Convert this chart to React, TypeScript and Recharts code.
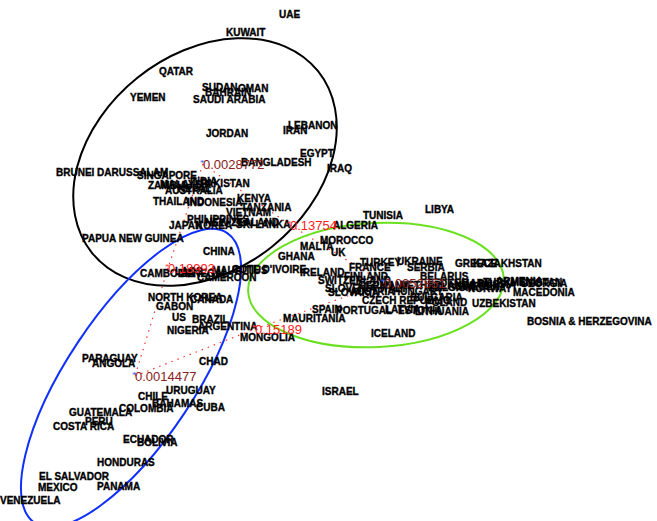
import { ScatterChart, Scatter, XAxis, YAxis, ReferenceLine } from 'recharts';

const W = 657;
const H = 521;

// 2-D map coordinates of each country: [name, x, y] (y grows downwards)
const gulfAsia: [string, number, number][] = [
  ['UAE', 279, 14], ['KUWAIT', 226, 32], ['QATAR', 159, 71], ['YEMEN', 130, 97],
  ['SUDAN', 202, 87], ['OMAN', 238, 88], ['BAHRAIN', 205, 92], ['SAUDI ARABIA', 193, 99],
  ['LEBANON', 288, 125], ['IRAN', 283, 130], ['JORDAN', 206, 133], ['EGYPT', 300, 153],
  ['BANGLADESH', 241, 162], ['IRAQ', 327, 168], ['BRUNEI DARUSSALAM', 56, 172],
  ['SINGAPORE', 137, 175], ['INDIA', 190, 181], ['PAKISTAN', 200, 183], ['ZAMBIA', 148, 185],
  ['MALAYSIA', 160, 184], ['NEPAL', 178, 188], ['AUSTRALIA', 165, 190],
  ['THAILAND', 153, 201], ['INDONESIA', 187, 202], ['KENYA', 237, 198], ['TANZANIA', 241, 207],
  ['VIETNAM', 226, 212], ['PHILIPPINES', 187, 219], ['NEW ZEALAND', 205, 222],
  ['JAPAN', 169, 225], ['KOREA', 196, 225], ['SRI LANKA', 236, 224], ['PAPUA NEW GUINEA', 82, 238],
];

const europeAfrica: [string, number, number][] = [
  ['TUNISIA', 363, 215], ['LIBYA', 425, 209], ['ALGERIA', 333, 225], ['MOROCCO', 320, 240],
  ['MALTA', 300, 246], ['UK', 331, 252], ['GHANA', 278, 256], ['IRELAND', 300, 272],
  ['TURKEY', 360, 262], ['FRANCE', 349, 267], ['UKRAINE', 397, 261], ['SERBIA', 407, 267],
  ['GREECE', 455, 263], ['KAZAKHSTAN', 473, 263], ['BELARUS', 420, 276], ['FINLAND', 344, 276],
  ['SWITZERLAND', 318, 280], ['GERMANY', 358, 285], ['SLOVENIA', 325, 288], ['SLOVAKIA', 328, 292],
  ['AUSTRIA', 350, 291], ['ITALY', 380, 288], ['HUNGARY', 393, 291], ['NETHERLANDS', 400, 285],
  ['BELGIUM', 428, 287], ['DENMARK', 440, 283], ['SWEDEN', 456, 286], ['NORWAY', 468, 288],
  ['RUSSIA', 478, 284], ['ARMENIA', 496, 281], ['TURKMENISTAN', 483, 282], ['GEORGIA', 520, 283],
  ['MACEDONIA', 513, 292], ['UZBEKISTAN', 472, 303], ['BOSNIA & HERZEGOVINA', 527, 321],
  ['CZECH REPUBLIC', 362, 300], ['BULGARIA', 410, 297], ['POLAND', 425, 302],
  ['SPAIN', 312, 309], ['PORTUGAL', 336, 310], ['LATVIA', 385, 309], ['ESTONIA', 398, 310],
  ['LITHUANIA', 415, 311], ['MAURITANIA', 283, 318], ['ICELAND', 371, 333], ['ISRAEL', 322, 391],
];

const middle: [string, number, number][] = [
  ['CHINA', 203, 251], ['CAMBODIA', 140, 273], ['LAOS', 175, 271], ['SENEGAL', 180, 273],
  ['MAURITIUS', 212, 270], ["COTE D'IVOIRE", 232, 269], ['CAMEROON', 197, 277],
  ['NORTH KOREA', 148, 297], ['CANADA', 190, 299], ['GABON', 156, 306], ['US', 172, 317],
  ['BRAZIL', 192, 319], ['ARGENTINA', 198, 326], ['NIGERIA', 167, 330], ['MONGOLIA', 240, 337],
];

const americas: [string, number, number][] = [
  ['PARAGUAY', 82, 358], ['ANGOLA', 92, 363], ['CHAD', 199, 361], ['URUGUAY', 166, 390],
  ['CHILE', 138, 396], ['BAHAMAS', 152, 403], ['COLOMBIA', 119, 408], ['CUBA', 196, 407],
  ['GUATEMALA', 69, 412], ['PERU', 85, 421], ['COSTA RICA', 53, 426], ['ECUADOR', 123, 439],
  ['BOLIVIA', 137, 442], ['HONDURAS', 97, 462], ['EL SALVADOR', 39, 476], ['MEXICO', 38, 487],
  ['PANAMA', 97, 486], ['VENEZUELA', 0, 500],
];

// merge nodes: [height, x, y, dark]
const nodes: [string, number, number, boolean][] = [
  ['0.0028772', 203, 164, true],
  ['0.13754', 290, 225, false],
  ['0.18993', 168, 268, false],
  ['0.15189', 255, 329, false],
  ['0.0014477', 135, 376, true],
  ['0.0052851', 384, 283, true],
];

// dotted links between merge nodes (indices into nodes)
const links: [number, number][] = [
  [0, 1], [0, 2], [2, 4], [4, 3], [3, 5], [1, 5],
];

// cluster outlines: [cx, cy, rx, ry, angle]
const clusters: [number, number, number, number, number][] = [
  [205, 162, 145, 108, -38.75],
  [131, 378, 174, 64, -56.4],
  [376, 285, 128, 62, -3],
];
const clusterColors = ['#000000', '#1030ff', '#6be020'];

const labelData = [...gulfAsia, ...europeAfrica, ...middle, ...americas].map(([name, x, y]) => ({ name, x, y }));
const nodeData = nodes.map(([name, x, y, dark]) => ({ name, x, y, dark }));
const ellipseData = clusters.map(([x, y, rx, ry, angle], i) => ({ x, y, rx, ry, angle, color: clusterColors[i] }));

const CountryLabel = (p: any) => (
  <text
    x={p.cx}
    y={p.cy}
    dy="0.36em"
    fontFamily="'Liberation Sans', Arial, sans-serif"
    fontWeight="bold"
    fontSize={10}
    fill="#000"
    stroke="#000"
    strokeWidth={0.35}
  >
    {p.payload.name}
  </text>
);

// height label with a small star marking the node itself
const NodeLabel = (p: any) => (
  <g>
    <text x={p.cx - 3} y={p.cy - 1} dy="0.36em" fontSize={9} fill={p.payload.dark ? '#4060ff' : '#ff4040'}>
      *
    </text>
    <text
      x={p.cx}
      y={p.cy}
      dy="0.36em"
      fontFamily="'Liberation Sans', Arial, sans-serif"
      fontSize={13}
      fill={p.payload.dark ? '#8a2020' : '#ff2020'}
    >
      {p.payload.name}
    </text>
  </g>
);

const ClusterEllipse = (p: any) => (
  <ellipse
    cx={p.cx}
    cy={p.cy}
    rx={p.payload.rx}
    ry={p.payload.ry}
    transform={`rotate(${p.payload.angle} ${p.cx} ${p.cy})`}
    fill="none"
    stroke={p.payload.color}
    strokeWidth={2}
  />
);

export default function App() {
  return (
    <div style={{ position: 'absolute', left: 0, top: 0, background: '#fff' }}>
      <ScatterChart width={W} height={H} margin={{ top: 0, right: 0, bottom: 0, left: 0 }}>
        <XAxis type="number" dataKey="x" domain={[0, W]} hide />
        <YAxis type="number" dataKey="y" domain={[0, H]} reversed hide />
        <Scatter data={ellipseData} shape={ClusterEllipse} isAnimationActive={false} />
        {links.map(([a, b], i) => (
          <ReferenceLine
            key={i}
            segment={[
              { x: nodes[a][1], y: nodes[a][2] },
              { x: nodes[b][1], y: nodes[b][2] },
            ]}
            stroke="#ff3030"
            strokeWidth={1.2}
            strokeDasharray="1.5 5"
          />
        ))}
        <Scatter data={labelData} shape={CountryLabel} isAnimationActive={false} />
        <Scatter data={nodeData} shape={NodeLabel} isAnimationActive={false} />
      </ScatterChart>
    </div>
  );
}
